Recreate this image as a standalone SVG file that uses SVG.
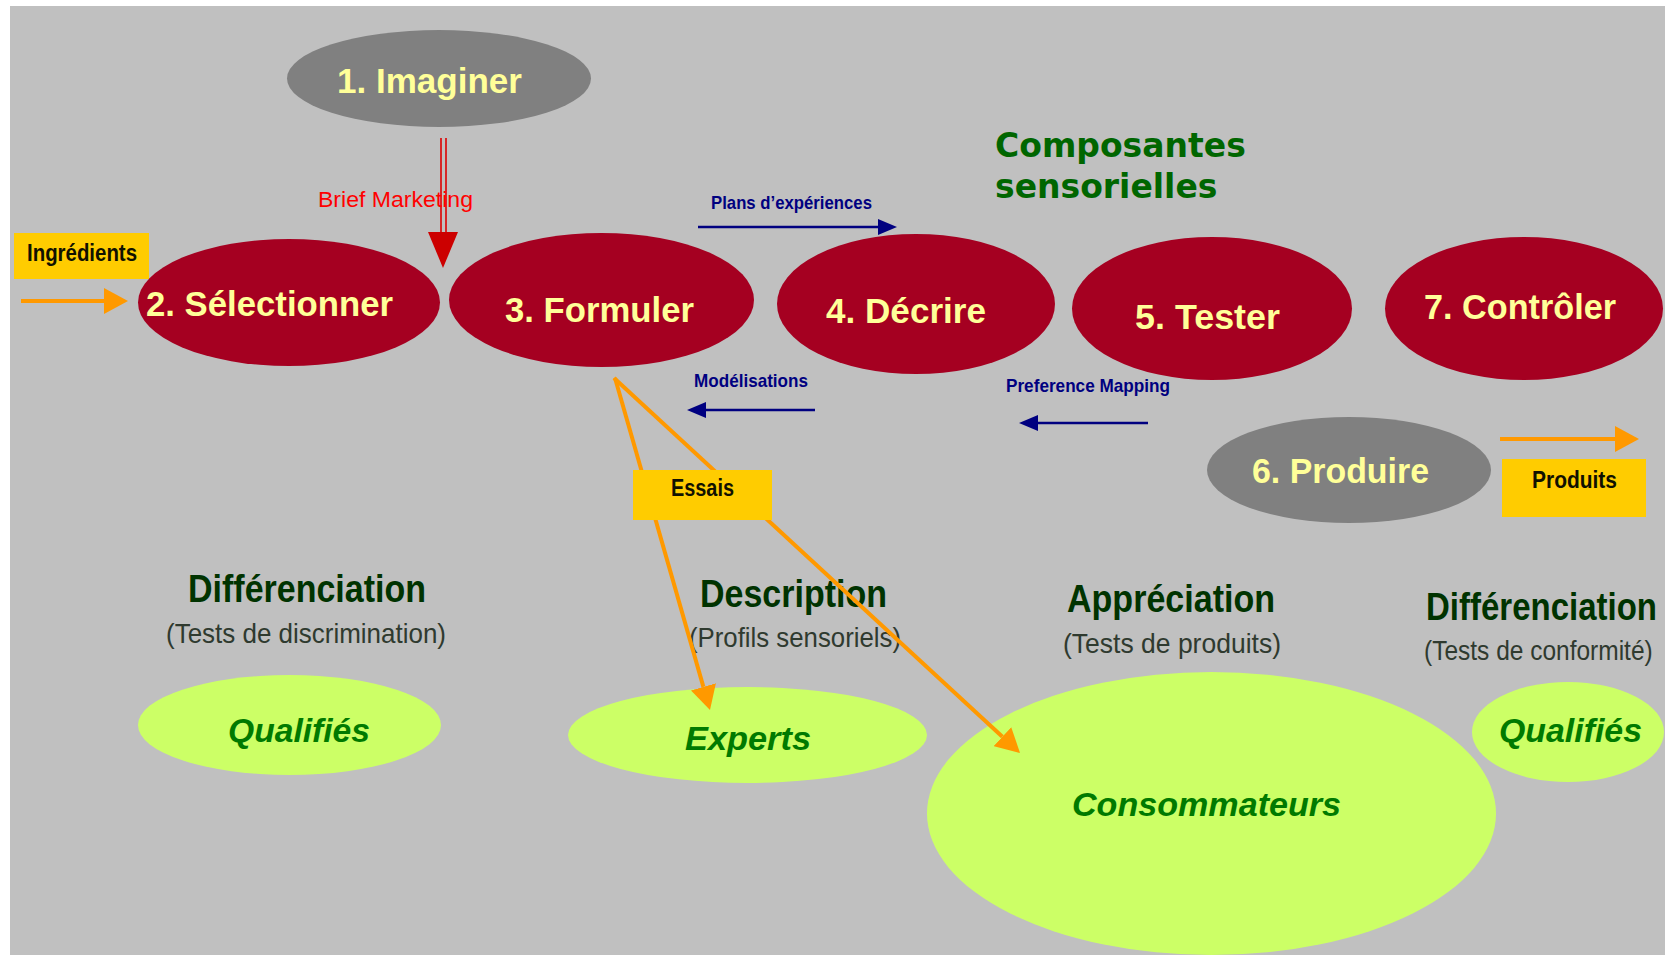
<svg xmlns="http://www.w3.org/2000/svg" width="1670" height="958" viewBox="0 0 1670 958">
  <defs>
    <style>
      .step { fill: #a50021; }
      .outer { fill: #808080; }
      .panel { fill: #ccff66; }
      .tag { fill: #ffcc00; }
      .step-label { font-family: "Liberation Sans", Arial, sans-serif; font-weight: bold; font-size: 35px; fill: #ffff99; }
      .tag-label { font-family: "Liberation Sans", Arial, sans-serif; font-weight: bold; font-size: 23px; fill: #111100; }
      .flow-label { font-family: "Liberation Sans", Arial, sans-serif; font-weight: bold; font-size: 19px; fill: #000080; }
      .brief-label { font-family: "Liberation Sans", Arial, sans-serif; font-size: 22px; fill: #ff0000; }
      .heading { font-family: "Liberation Sans", Arial, sans-serif; font-weight: bold; font-size: 38px; fill: #003300; }
      .sub { font-family: "Liberation Sans", Arial, sans-serif; font-size: 28px; fill: #2f3a2f; }
      .panel-label { font-family: "Liberation Sans", Arial, sans-serif; font-weight: bold; font-style: italic; font-size: 34px; fill: #007a00; }
      .title { font-family: "DejaVu Sans", Verdana, sans-serif; font-weight: bold; font-size: 33px; fill: #006600; }
      .orange { stroke: #ff9900; stroke-width: 4; fill: none; }
      .blue { stroke: #000080; stroke-width: 2.5; fill: none; }
      .red { stroke: #dd0000; stroke-width: 1.6; fill: none; }
    </style>
    <marker id="head-orange" viewBox="0 0 24 26" refX="0" refY="13" markerWidth="24" markerHeight="26" markerUnits="userSpaceOnUse" orient="auto">
      <path d="M0,0 L24,13 L0,26 Z" fill="#ff9900"/>
    </marker>
    <marker id="head-blue" viewBox="0 0 19 16" refX="0" refY="8" markerWidth="19" markerHeight="16" markerUnits="userSpaceOnUse" orient="auto">
      <path d="M0,0 L19,8 L0,16 Z" fill="#000080"/>
    </marker>
  </defs>

  <!-- Page and grey slide area -->
  <rect x="0" y="0" width="1670" height="958" fill="#ffffff"/>
  <rect x="10" y="6" width="1655" height="949" fill="#c0c0c0"/>

  <!-- Title -->
  <g id="title">
    <text class="title" x="995" y="157">Composantes</text>
    <text class="title" x="995" y="198">sensorielles</text>
  </g>

  <!-- Test family headings -->
  <g id="heading-discrimination">
    <text class="heading" x="188" y="602" textLength="238" lengthAdjust="spacingAndGlyphs">Différenciation</text>
    <text class="sub" x="166" y="643" textLength="280" lengthAdjust="spacingAndGlyphs">(Tests de discrimination)</text>
  </g>
  <g id="heading-description">
    <text class="heading" x="700" y="607" textLength="187" lengthAdjust="spacingAndGlyphs">Description</text>
    <text class="sub" x="689" y="647" textLength="212" lengthAdjust="spacingAndGlyphs">(Profils sensoriels)</text>
  </g>
  <g id="heading-appreciation">
    <text class="heading" x="1067" y="612" textLength="208" lengthAdjust="spacingAndGlyphs">Appréciation</text>
    <text class="sub" x="1063" y="653" textLength="218" lengthAdjust="spacingAndGlyphs">(Tests de produits)</text>
  </g>
  <!-- right-hand heading: smaller font stretched vertically so it stays inside the slide -->
  <g id="heading-conformite">
    <text class="heading" transform="translate(1426,620) scale(1,1.15)" x="0" y="0" style="font-size:33px">Différenciation</text>
    <text class="sub" transform="translate(1424,660) scale(1,1.14)" x="0" y="0" style="font-size:24.5px">(Tests de conformité)</text>
  </g>

  <!-- Panels -->
  <g id="panel-qualifies-1">
    <ellipse class="panel" cx="289.5" cy="725" rx="151.5" ry="50"/>
    <text class="panel-label" x="228" y="742" textLength="142" lengthAdjust="spacingAndGlyphs">Qualifiés</text>
  </g>
  <g id="panel-experts">
    <ellipse class="panel" cx="747.5" cy="735" rx="179.5" ry="48"/>
    <text class="panel-label" x="685" y="750" textLength="126" lengthAdjust="spacingAndGlyphs">Experts</text>
  </g>
  <g id="panel-consommateurs">
    <ellipse class="panel" cx="1211.5" cy="813.5" rx="284.5" ry="141.5"/>
    <text class="panel-label" x="1072" y="816" textLength="269" lengthAdjust="spacingAndGlyphs">Consommateurs</text>
  </g>
  <g id="panel-qualifies-2">
    <ellipse class="panel" cx="1568" cy="732" rx="96" ry="50"/>
    <text class="panel-label" x="1499" y="742" textLength="143" lengthAdjust="spacingAndGlyphs">Qualifiés</text>
  </g>

  <!-- Connectors -->
  <g id="connectors">
    <g id="edge-brief">
      <line class="red" x1="441" y1="138" x2="441" y2="233"/>
      <line class="red" x1="446" y1="138" x2="446" y2="233"/>
      <path d="M428,232 L458,232 L443,268 Z" fill="#cc0000"/>
      <text class="brief-label" x="318" y="207" textLength="155" lengthAdjust="spacingAndGlyphs">Brief Marketing</text>
    </g>
    <g id="edge-ingredients">
      <line class="orange" x1="21" y1="301" x2="104" y2="301" marker-end="url(#head-orange)"/>
    </g>
    <g id="edge-plans">
      <line class="blue" x1="698" y1="227" x2="878" y2="227" marker-end="url(#head-blue)"/>
      <text class="flow-label" x="711" y="209" textLength="161" lengthAdjust="spacingAndGlyphs">Plans d’expériences</text>
    </g>
    <g id="edge-modelisations">
      <line class="blue" x1="815" y1="410" x2="706" y2="410" marker-end="url(#head-blue)"/>
      <text class="flow-label" x="694" y="387" textLength="114" lengthAdjust="spacingAndGlyphs">Modélisations</text>
    </g>
    <g id="edge-preference">
      <line class="blue" x1="1148" y1="423" x2="1038" y2="423" marker-end="url(#head-blue)"/>
      <text class="flow-label" x="1006" y="392" textLength="164" lengthAdjust="spacingAndGlyphs">Preference Mapping</text>
    </g>
    <g id="edge-essais-experts">
      <line class="orange" x1="615" y1="378" x2="703.4" y2="686.9" marker-end="url(#head-orange)"/>
    </g>
    <g id="edge-essais-consommateurs">
      <line class="orange" x1="614" y1="378" x2="1002.4" y2="736.7" marker-end="url(#head-orange)"/>
    </g>
    <g id="edge-produits">
      <line class="orange" x1="1500" y1="439" x2="1615" y2="439" marker-end="url(#head-orange)"/>
    </g>
  </g>

  <!-- Process steps -->
  <g id="step-imaginer">
    <ellipse class="outer" cx="439" cy="78.5" rx="152" ry="48.5"/>
    <text class="step-label" x="337" y="93" textLength="185" lengthAdjust="spacingAndGlyphs">1. Imaginer</text>
  </g>
  <g id="step-selectionner">
    <ellipse class="step" cx="289" cy="302.5" rx="151" ry="63.5"/>
    <text class="step-label" x="146" y="316" textLength="247" lengthAdjust="spacingAndGlyphs">2. Sélectionner</text>
  </g>
  <g id="step-formuler">
    <ellipse class="step" cx="601.5" cy="300" rx="152.5" ry="67"/>
    <text class="step-label" x="505" y="322" textLength="189" lengthAdjust="spacingAndGlyphs">3. Formuler</text>
  </g>
  <g id="step-decrire">
    <ellipse class="step" cx="916" cy="304" rx="139" ry="70"/>
    <text class="step-label" x="826" y="323" textLength="160" lengthAdjust="spacingAndGlyphs">4. Décrire</text>
  </g>
  <g id="step-tester">
    <ellipse class="step" cx="1212" cy="308.5" rx="140" ry="71.5"/>
    <text class="step-label" x="1135" y="329" textLength="145" lengthAdjust="spacingAndGlyphs">5. Tester</text>
  </g>
  <g id="step-produire">
    <ellipse class="outer" cx="1349" cy="470" rx="142" ry="53"/>
    <text class="step-label" x="1252" y="483" textLength="177" lengthAdjust="spacingAndGlyphs">6. Produire</text>
  </g>
  <g id="step-controler">
    <ellipse class="step" cx="1524" cy="308.5" rx="139" ry="71.5"/>
    <text class="step-label" x="1424" y="319" textLength="192" lengthAdjust="spacingAndGlyphs">7. Contrôler</text>
  </g>

  <!-- Tags -->
  <g id="tag-ingredients">
    <rect class="tag" x="14" y="233" width="135" height="46"/>
    <text class="tag-label" x="27" y="261" textLength="110" lengthAdjust="spacingAndGlyphs">Ingrédients</text>
  </g>
  <g id="tag-essais">
    <rect class="tag" x="633" y="470" width="139" height="50"/>
    <text class="tag-label" x="671" y="496" textLength="63" lengthAdjust="spacingAndGlyphs">Essais</text>
  </g>
  <g id="tag-produits">
    <rect class="tag" x="1502" y="459" width="144" height="58"/>
    <text class="tag-label" x="1532" y="488" textLength="85" lengthAdjust="spacingAndGlyphs">Produits</text>
  </g>
</svg>
